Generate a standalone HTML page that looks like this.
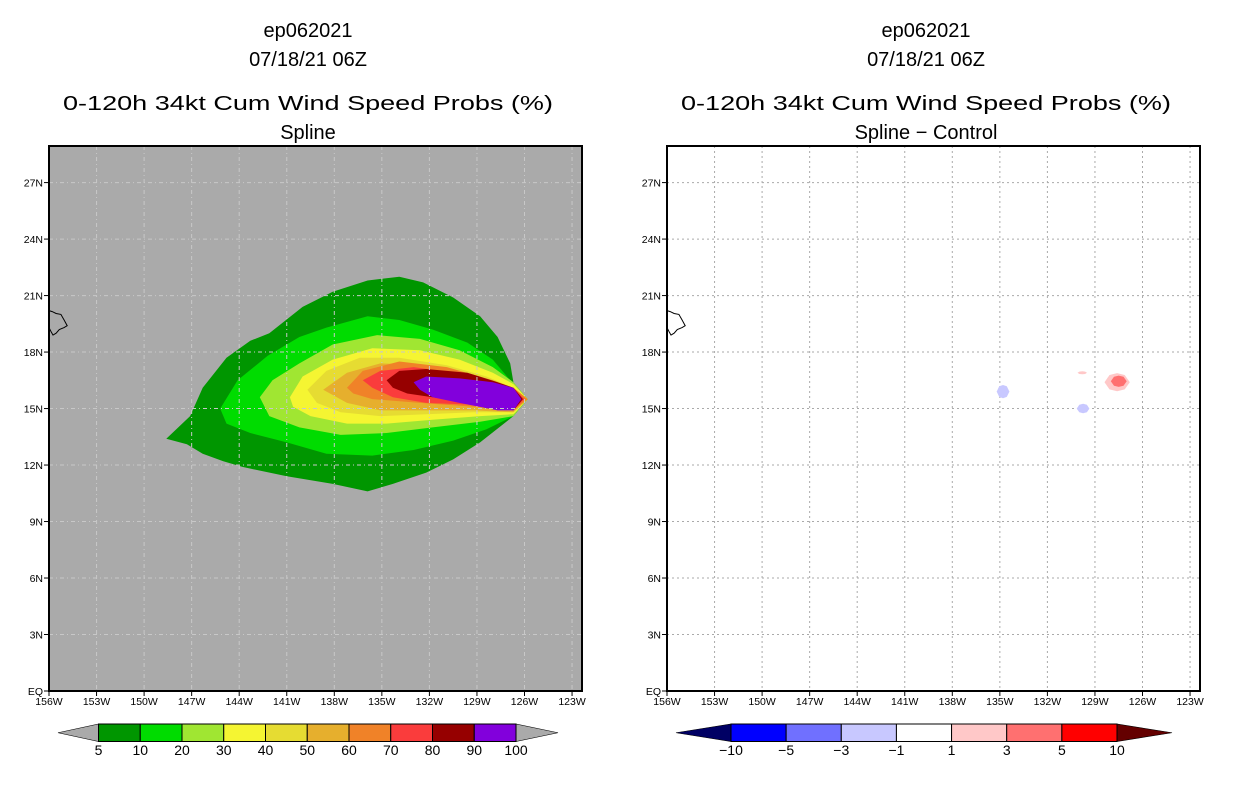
<!DOCTYPE html>
<html><head><meta charset="utf-8"><style>
html,body{margin:0;padding:0;background:#fff;width:1236px;height:800px;overflow:hidden}
svg{display:block}
text{font-family:"Liberation Sans",sans-serif;fill:#000}
</style></head><body>
<svg id="chart" width="1236" height="800" viewBox="0 0 1236 800"></svg>
<script>
// ---- data ----
const lonTicks = [-156,-153,-150,-147,-144,-141,-138,-135,-132,-129,-126,-123];
const latTicks = [0,3,6,9,12,15,18,21,24,27];
const probLevels = [5,10,20,30,40,50,60,70,80,90,100];
const probColors = ['#009600','#00dc00','#a0e632','#f5f532','#e6dc32','#e6af2d','#f08228','#fa3c3c','#960000','#8200dc'];
const diffLevels = [-10,-5,-3,-1,1,3,5,10];
const diffColors = ['#0000ff','#7070ff','#c8c8ff','#ffffff','#ffc8c8','#ff7070','#ff0000'];
const p5 = [[-148.6,13.4],[-147.1,14.6],[-146.3,16.1],[-144.8,17.7],[-143.3,18.6],[-142.1,19.0],[-140.0,20.4],[-138.1,21.2],[-135.9,21.8],[-133.9,22.0],[-132.4,21.7],[-130.5,20.9],[-128.8,19.9],[-127.7,18.8],[-126.9,17.4],[-126.7,16.4],[-125.8,15.5],[-126.7,14.6],[-128.8,13.2],[-130.5,12.3],[-132.2,11.6],[-134.3,11.0],[-135.9,10.6],[-138.1,11.0],[-141.0,11.4],[-143.8,11.9],[-145.0,12.2],[-146.3,12.6],[-147.3,13.1]];
const p10 = [[-145.2,15.0],[-144.1,16.5],[-142.2,17.8],[-140.2,18.8],[-138.5,19.3],[-135.9,19.9],[-133.9,19.7],[-131.8,19.2],[-129.6,18.5],[-128.0,17.6],[-126.9,16.5],[-125.8,15.5],[-126.7,14.6],[-128.4,13.9],[-130.5,13.3],[-133.0,12.8],[-135.6,12.5],[-138.5,12.6],[-141.0,13.2],[-143.3,13.7],[-144.8,14.2]];
const p20 = [[-142.7,15.6],[-141.9,16.5],[-140.2,17.4],[-138.1,18.4],[-135.3,18.9],[-132.6,18.7],[-130.1,18.1],[-128.0,17.2],[-126.7,16.4],[-125.8,15.5],[-126.7,14.6],[-128.8,14.3],[-131.8,14.0],[-134.7,13.7],[-137.6,13.6],[-140.2,14.0],[-142.1,14.6]];
const p30 = [[-140.8,15.6],[-140.0,16.7],[-138.1,17.6],[-135.6,18.2],[-132.6,18.1],[-130.1,17.6],[-128.0,16.9],[-126.7,16.3],[-125.8,15.5],[-126.7,14.7],[-128.8,14.6],[-131.8,14.4],[-134.7,14.2],[-137.2,14.2],[-139.5,14.6],[-140.6,15.1]];
const p40 = [[-139.7,16.0],[-138.5,17.0],[-136.4,17.7],[-133.9,17.7],[-130.9,17.3],[-128.4,16.7],[-126.7,16.1],[-125.8,15.5],[-126.7,14.8],[-129.2,14.8],[-132.2,14.7],[-135.1,14.6],[-137.6,14.8],[-139.1,15.3]];
const p50 = [[-138.7,16.0],[-137.2,16.9],[-135.1,17.4],[-132.2,17.3],[-129.2,16.8],[-126.7,16.1],[-125.8,15.5],[-126.7,14.8],[-129.2,14.9],[-132.2,14.9],[-135.1,14.9],[-137.2,15.3]];
const p60 = [[-137.2,16.1],[-136.2,17.0],[-133.9,17.5],[-130.9,17.2],[-128.0,16.5],[-126.7,16.1],[-125.8,15.5],[-126.7,14.9],[-129.2,15.1],[-132.6,15.3],[-135.6,15.5],[-136.8,15.8]];
const p70 = [[-136.2,16.5],[-135.1,17.0],[-133.0,17.2],[-130.5,16.9],[-128.0,16.4],[-126.7,16.1],[-126.0,15.5],[-126.7,14.9],[-129.2,15.2],[-132.2,15.3],[-134.3,15.6],[-135.6,16.1]];
const p80 = [[-134.7,16.5],[-133.9,17.0],[-132.2,17.1],[-129.6,16.9],[-127.7,16.4],[-126.7,16.1],[-126.1,15.5],[-126.7,14.9],[-129.2,15.3],[-131.8,15.6],[-133.4,15.8],[-134.3,16.1]];
const p90 = [[-133.0,16.4],[-132.2,16.7],[-130.1,16.6],[-128.0,16.4],[-126.7,16.1],[-126.2,15.5],[-126.7,14.9],[-127.7,14.9],[-130.1,15.3],[-131.8,15.6],[-132.6,16.0]];
const probPolys = [p5,p10,p20,p30,p40,p50,p60,p70,p80,p90];
// difference blobs
const diffLon = [-134.8,-129.75,-127.6,-127.5,-129.8];
const diffLat = [15.9,15.0,16.4,16.45,16.9];
const diffHW = [0.4,0.4,0.8,0.5,0.3];
const diffHH = [0.35,0.25,0.48,0.3,0.08];
const diffIdx = [2,2,4,5,4];
const hawaii = [[-156,20.2],[-155.8,20.15],[-155.55,20.05],[-155.25,20.0],[-155.05,19.7],[-154.85,19.4],[-155.05,19.3],[-155.35,19.2],[-155.55,19.0],[-155.75,18.9],[-155.85,19.05],[-156,19.3]];

const NS='http://www.w3.org/2000/svg';
const svg=document.getElementById('chart');
function el(tag,attrs,parent,txt){const e=document.createElementNS(NS,tag);for(const k in attrs)e.setAttribute(k,attrs[k]);if(txt!==undefined)e.textContent=txt;(parent||svg).appendChild(e);return e;}
const PW=533, PH=545, PT=146;
const LON0=-156, PXDEG=15.85, LATDEG=18.83;
function makeAxes(x0){return {x:lon=>x0+(lon-LON0)*PXDEG, y:lat=>691-lat*LATDEG};}
function ptsStr(a,poly){return poly.map(p=>a.x(p[0]).toFixed(1)+','+a.y(p[1]).toFixed(1)).join(' ');}

function titles(cx,sub,g){
  const t1=el('text',{x:cx,y:37,'font-size':20,'text-anchor':'middle'},g,'ep062021');
  
  const t2=el('text',{x:cx,y:66,'font-size':20,'text-anchor':'middle'},g,'07/18/21 06Z');
  
  const t3=el('text',{x:cx,y:110,'font-size':20,'text-anchor':'middle',textLength:490,lengthAdjust:'spacingAndGlyphs'},g,'0-120h 34kt Cum Wind Speed Probs (%)');
  
  const t4=el('text',{x:cx,y:139,'font-size':20,'text-anchor':'middle'},g,sub);
  
}
function axesTicks(a,x0,g){
  lonTicks.forEach(l=>{
    const x=a.x(l);
    el('line',{x1:x,y1:691,x2:x,y2:696,stroke:'#000','stroke-width':1},g);
    const t=el('text',{x:x,y:705,'font-size':10.5,'text-anchor':'middle'},g,(-l)+'W');
    
  });
  latTicks.forEach(l=>{
    const y=a.y(l);
    el('line',{x1:x0-5,y1:y,x2:x0,y2:y,stroke:'#000','stroke-width':1},g);
    const t=el('text',{x:x0-6,y:y+4,'font-size':10.5,'text-anchor':'end'},g,l===0?'EQ':l+'N');
    
  });
}
function grid(a,x0,g,color,dash){
  lonTicks.slice(1).forEach(l=>{const x=a.x(l);if(x<x0+PW-2)el('line',{x1:x,y1:PT,x2:x,y2:691,stroke:color,'stroke-width':1,'stroke-dasharray':dash},g);});
  latTicks.slice(1).forEach(l=>{const y=a.y(l);el('line',{x1:x0,y1:y,x2:x0+PW,y2:y,stroke:color,'stroke-width':1,'stroke-dasharray':dash},g);});
}

// ---- left panel ----
(function(){
  const x0=49, a=makeAxes(x0);
  const g=el('g',{});
  titles(308,'Spline',g);
  const bg=el('rect',{x:x0,y:PT,width:PW,height:PH,fill:'#aaaaaa'},g);
  
  probPolys.forEach((poly,i)=>{
    const p=el('polygon',{points:ptsStr(a,poly),fill:probColors[i]},g);
    
    
  });
  grid(a,x0,g,'#c8c8c8','4,3,1,3');
  const hw=el('polygon',{points:ptsStr(a,hawaii),fill:'none',stroke:'#000','stroke-width':1},g);
  
  const fr=el('rect',{x:x0,y:PT,width:PW,height:PH,fill:'none',stroke:'#000','stroke-width':2},g);
  
  axesTicks(a,x0,g);
  const cb=el('g',{},g);
  const bx0=98.5,bx1=516,by=724,bh=17.5,n=probColors.length,bw=(bx1-bx0)/n;
  el('polygon',{points:`${bx0},${by} ${bx0},${by+bh} 58,${by+bh/2}`,fill:'#aaaaaa',stroke:'#000','stroke-width':0.6},cb);
  el('polygon',{points:`${bx1},${by} ${bx1},${by+bh} 558,${by+bh/2}`,fill:'#aaaaaa',stroke:'#000','stroke-width':0.6},cb);
  probColors.forEach((c,i)=>{
    const r=el('rect',{x:bx0+i*bw,y:by,width:bw,height:bh,fill:c,stroke:'#000','stroke-width':1},cb);
    
  });
  probLevels.forEach((v,i)=>{
    const t=el('text',{x:bx0+i*bw,y:755,'font-size':14,'text-anchor':'middle'},cb,String(v));
    
  });
})();

// ---- right panel ----
(function(){
  const x0=667, a=makeAxes(x0);
  const g=el('g',{});
  titles(926,'Spline \u2212 Control',g);
  const bg=el('rect',{x:x0,y:PT,width:PW,height:PH,fill:'#ffffff'},g);
  
  grid(a,x0,g,'#aaaaaa','2,3');
  diffLon.forEach((lon,i)=>{
    const hw=diffHW[i],hh=diffHH[i],la=diffLat[i];
    const poly=[[lon-hw,la],[lon-hw*0.6,la+hh*0.8],[lon,la+hh],[lon+hw*0.6,la+hh*0.8],[lon+hw,la],[lon+hw*0.6,la-hh*0.8],[lon,la-hh],[lon-hw*0.6,la-hh*0.8]];
    const p=el('polygon',{points:ptsStr(a,poly),fill:diffColors[diffIdx[i]]},g);
    
    
  });
  const hw=el('polygon',{points:ptsStr(a,hawaii),fill:'none',stroke:'#000','stroke-width':1},g);
  
  const fr=el('rect',{x:x0,y:PT,width:PW,height:PH,fill:'none',stroke:'#000','stroke-width':2},g);
  
  axesTicks(a,x0,g);
  const cb=el('g',{},g);
  const bx0=731,bx1=1117,by=724,bh=17.5,n=diffColors.length,bw=(bx1-bx0)/n;
  el('polygon',{points:`${bx0},${by} ${bx0},${by+bh} 676,${by+bh/2}`,fill:'#000064',stroke:'#000','stroke-width':0.6},cb);
  el('polygon',{points:`${bx1},${by} ${bx1},${by+bh} 1172,${by+bh/2}`,fill:'#640000',stroke:'#000','stroke-width':0.6},cb);
  diffColors.forEach((c,i)=>{
    const r=el('rect',{x:bx0+i*bw,y:by,width:bw,height:bh,fill:c,stroke:'#000','stroke-width':1},cb);
    
  });
  diffLevels.forEach((v,i)=>{
    const t=el('text',{x:bx0+i*bw,y:755,'font-size':14,'text-anchor':'middle'},cb,v<0?'\u2212'+(-v):String(v));
    
  });
})();
</script>
</body></html>
